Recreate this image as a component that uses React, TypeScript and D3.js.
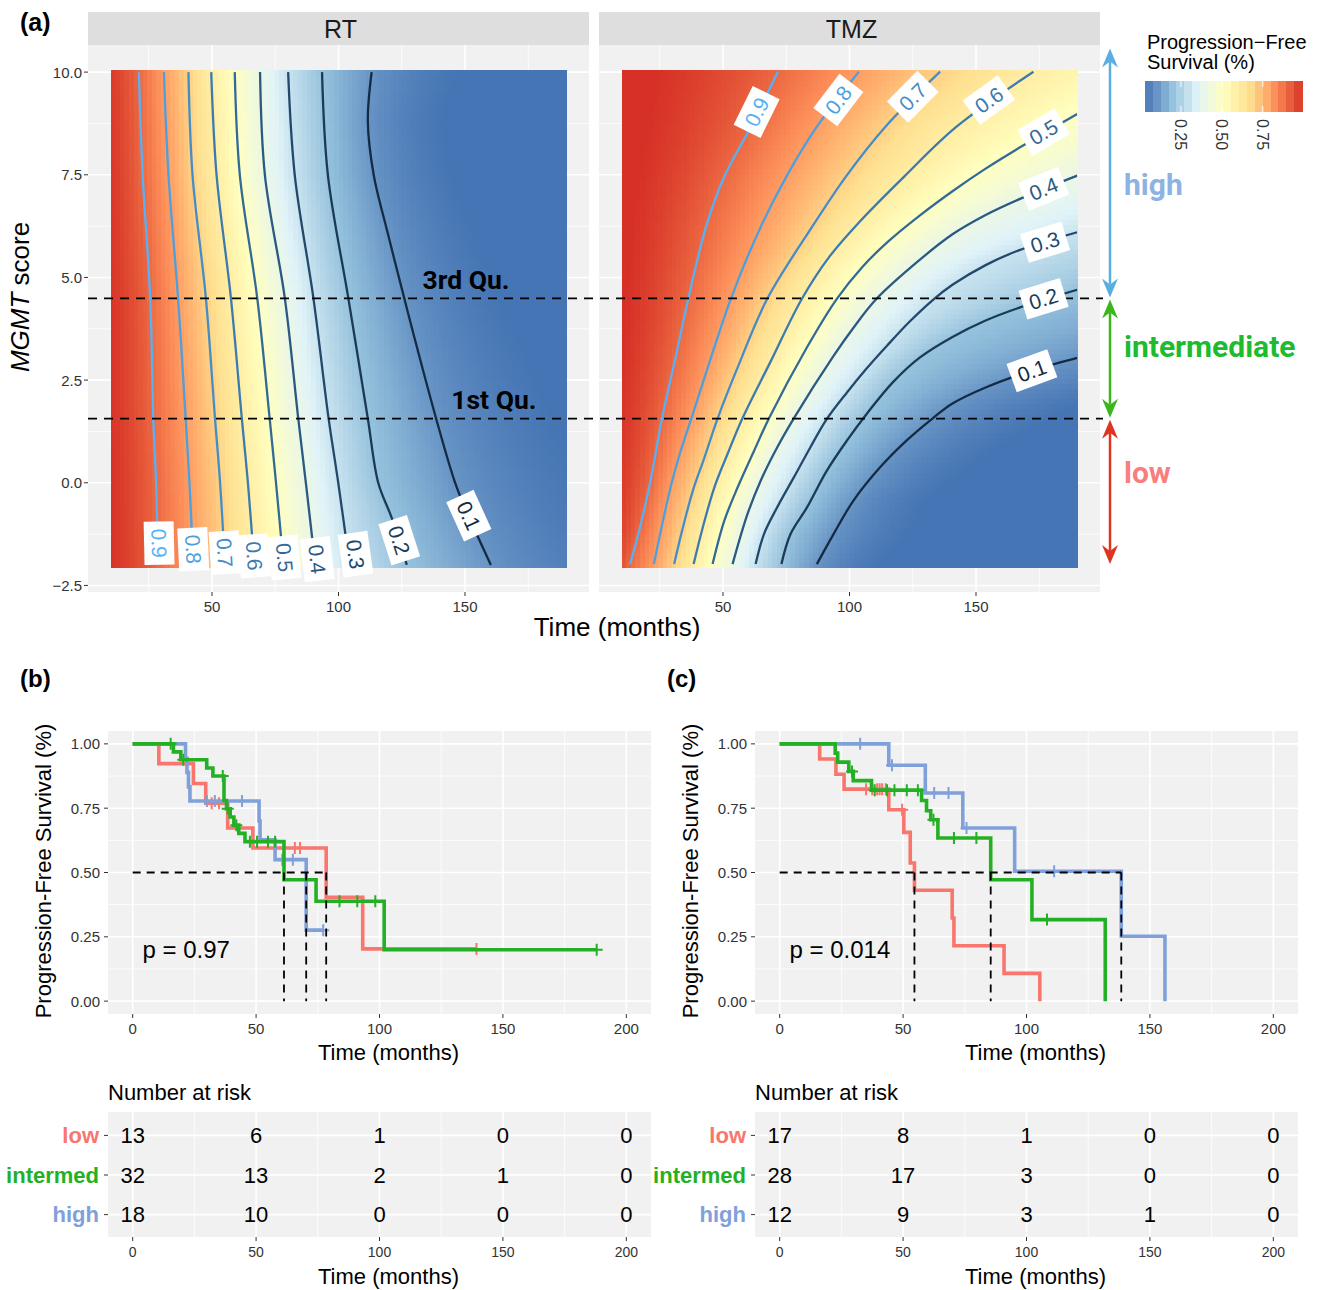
import React, { useEffect, useRef } from 'react';
import * as d3 from 'd3';

type Pt = [number, number];

const W = 1319;
const H = 1290;
const FONT = "'Liberation Sans', Arial, Helvetica, sans-serif";
const COND = "Roboto, 'Liberation Sans', Arial, sans-serif";

// ---- (a) contour lines of the predicted PFS surface as [months, MGMT score]
const levels = [0.1, 0.2, 0.3, 0.4, 0.5, 0.6, 0.7, 0.8, 0.9];

const rtC01: Pt[] = [[160.2, -2], [151.0, -0.75], [146.1, 0], [138.6, 1.56], [129.6, 3.63], [126.0, 4.49], [119.5, 6.07], [113.9, 7.5], [111.6, 8.8], [113.1, 10]];
const rtC02: Pt[] = [[127, -2], [121, -0.85], [115.7, 0], [111.6, 1.56], [103.9, 4.49], [95.8, 7.5], [93.5, 10]];
const rtC03: Pt[] = [[104.4, -2], [99.9, 0], [96.1, 1.56], [90.1, 4.49], [82.7, 7.5], [80.1, 10]];
const rtC04: Pt[] = [[90.8, -2], [87.1, 0], [84.1, 1.56], [78.8, 4.49], [70.9, 7.5], [69.0, 10]];
const rtC05: Pt[] = [[78.3, -2], [75.3, 0], [72.8, 1.56], [67.9, 4.49], [61.0, 7.5], [59.0, 10]];
const rtC06: Pt[] = [[66.7, -2], [64.2, 0], [61.8, 1.56], [57.5, 4.49], [51.8, 7.5], [49.7, 10]];
const rtC07: Pt[] = [[55.1, -2], [53.2, 0], [51.2, 1.56], [47.6, 4.49], [42.3, 7.5], [40.7, 10]];
const rtC08: Pt[] = [[42.6, -2], [41.1, 0], [39.6, 1.56], [36.6, 4.49], [32.8, 7.5], [31.0, 10]];
const rtC09: Pt[] = [[28.6, -2], [27.9, 0], [26.8, 1.56], [25.6, 4.49], [22.6, 7.5], [21.1, 10]];
const rtContours = [rtC01, rtC02, rtC03, rtC04, rtC05, rtC06, rtC07, rtC08, rtC09];
const rtLabelAt: Pt[] = [[151.5, -0.8], [124.0, -1.4], [106.7, -1.74], [91.6, -1.86], [78.7, -1.82], [66.7, -1.78], [55.1, -1.7], [42.6, -1.62], [29.1, -1.47]];

const tmzC01: Pt[] = [[87.1, -1.98], [93.7, -1.25], [101.5, -0.44], [112.0, 0.37], [122.4, 1.02], [132.9, 1.57], [140.7, 1.93], [153.8, 2.32], [172.1, 2.73], [190, 3.04]];
const tmzC02: Pt[] = [[73.1, -1.98], [76.7, -1.25], [83.2, -0.6], [91.0, 0.29], [98.9, 1.02], [106.7, 1.67], [117.2, 2.45], [127.6, 3.04], [140.7, 3.55], [153.8, 3.95], [166.9, 4.26], [190, 4.7]];
const tmzC03: Pt[] = [[62.9, -1.98], [66.2, -1.25], [71.4, -0.6], [78.0, 0.13], [84.5, 0.86], [91.0, 1.55], [99, 2.2], [107, 2.8], [115, 3.35], [123.7, 3.92], [132.9, 4.45], [140.7, 4.82], [153.8, 5.3], [166.9, 5.66], [190, 6.1]];
const tmzC04: Pt[] = [[53.8, -1.98], [59.7, -0.76], [64.9, 0.05], [71.4, 0.86], [78.0, 1.57], [93.7, 3.09], [101.5, 3.77], [110.7, 4.48], [127.6, 5.42], [140.7, 6.05], [153.8, 6.52], [166.9, 6.9], [190, 7.48]];
const tmzC05: Pt[] = [[45.9, -1.98], [50.5, -0.93], [55.8, -0.11], [62.3, 0.78], [68.2, 1.57], [83.2, 3.3], [95.0, 4.48], [105, 5.25], [115, 5.86], [127.6, 6.5], [140.7, 7.1], [153.8, 7.65], [166.9, 8.15], [190, 8.98]];
const tmzC06: Pt[] = [[38.4, -1.98], [42.0, -1.09], [46.6, -0.11], [51.8, 0.7], [57.7, 1.57], [68.8, 2.95], [81.2, 4.48], [92, 5.5], [103.9, 6.35], [121.5, 7.45], [142.3, 8.67], [172.7, 10.01]];
const tmzC07: Pt[] = [[30.7, -1.98], [33.5, -1.25], [38.1, -0.19], [42.7, 0.62], [47.9, 1.57], [55.8, 2.81], [67.5, 4.48], [85.2, 6.23], [98.5, 7.45], [114.2, 8.67], [135.8, 10.01]];
const tmzC08: Pt[] = [[22.7, -1.98], [25.7, -1.09], [29.6, -0.03], [32.9, 0.7], [37.5, 1.57], [44.0, 2.81], [53.1, 4.48], [64.9, 6.23], [75.0, 7.45], [87.1, 8.67], [103.7, 10.01]];
const tmzC09: Pt[] = [[13.3, -1.98], [17.2, -1.09], [21.1, -0.03], [23.1, 0.62], [25.9, 1.57], [30.9, 2.95], [36.3, 4.48], [43.3, 6.23], [50.5, 7.45], [61.0, 8.67], [71.7, 10.01]];
const tmzContours = [tmzC01, tmzC02, tmzC03, tmzC04, tmzC05, tmzC06, tmzC07, tmzC08, tmzC09];
const tmzLabelAt: Pt[] = [[172.1, 2.73], [176.7, 4.48], [177.3, 5.86], [176.7, 7.16], [176.7, 8.54], [155.1, 9.32], [125.0, 9.4], [95.6, 9.32], [63.3, 9.03]];

const quartileScores = [4.49, 1.56];
const quartileNames = ['3rd Qu.', '1st Qu.'];
const quartileLabelMonths = [150.4, 161.4];

const fillLimits = [0.03, 0.99];
const rdylbu7 = ['#4575b4', '#91bfdb', '#e0f3f8', '#ffffbf', '#fee090', '#fc8d59', '#d73027'];
const legendTicks = [0.25, 0.5, 0.75];

const groupLong = ['high', 'intermediate', 'low'];
const groupRanges: Pt[] = [[4.49, 10.6], [1.56, 4.49], [-2, 1.56]];
const groupTextScore = [7.27, 3.32, 0.24];
const groupArrowColors = ['#5BAEE0', '#3DB61E', '#DD3520'];
const groupTextColors = ['#8DB3E2', '#1DBB2F', '#F77F7F'];

// ---- (b) RT and (c) TMZ Kaplan-Meier curves: [month, survival after drop]
const rtLowSteps: Pt[] = [[10.6, 0.923], [24.6, 0.846], [29.6, 0.769], [38.5, 0.673], [48.7, 0.595], [78.4, 0.404], [93.2, 0.203]];
const rtLowCensor = [32, 35, 65.7, 67.8, 139.3];
const rtIntSteps: Pt[] = [[16.5, 0.969], [19.5, 0.938], [30, 0.906], [32.5, 0.875], [37, 0.78], [38, 0.748], [39.5, 0.716], [41, 0.684], [43, 0.652], [45.5, 0.62], [61.3, 0.472], [74.3, 0.388], [101.9, 0.2]];
const rtIntCensor = [15.4, 20.5, 36.5, 38.5, 42, 47.5, 50.4, 54.8, 57.7, 83.8, 91, 98.3, 188];
const rtHighSteps: Pt[] = [[21.4, 0.944], [22, 0.889], [22.6, 0.833], [23.2, 0.778], [51.2, 0.7], [51.6, 0.627], [57.7, 0.55], [70.3, 0.276]];
const rtHighCensor = [30.1, 33.3, 44.3, 60.6, 64.9, 77.2];

const tmzLowSteps: Pt[] = [[16.2, 0.941], [22.8, 0.882], [26.1, 0.824], [44.2, 0.744], [50.3, 0.656], [52.9, 0.537], [54.6, 0.431], [69.9, 0.323], [70.6, 0.215], [90.9, 0.108], [105.4, 0]];
const tmzLowCensor = [35, 37.5, 39.5, 40.5, 41.5, 43, 49.6];
const tmzIntSteps: Pt[] = [[22.5, 0.964], [23.5, 0.929], [28, 0.893], [29.8, 0.857], [37.2, 0.82], [57.5, 0.78], [59.5, 0.74], [61.2, 0.705], [64.1, 0.634], [85.5, 0.472], [102.2, 0.317], [131.9, 0]];
const tmzIntCensor = [29.3, 38.5, 43.5, 46.5, 51.5, 56, 62.3, 70.6, 79.7, 108.3];
const tmzHighSteps: Pt[] = [[44.2, 0.917], [59, 0.809], [74.2, 0.673], [95.2, 0.505], [138.4, 0.252], [156.1, 0]];
const tmzHighCensor = [32.6, 45.5, 62.6, 68.4, 75.7, 111.2];

const riskTimes = [0, 50, 100, 150, 200];
const rtRiskLow = [13, 6, 1, 0, 0];
const rtRiskInt = [32, 13, 2, 1, 0];
const rtRiskHigh = [18, 10, 0, 0, 0];
const tmzRiskLow = [17, 8, 1, 0, 0];
const tmzRiskInt = [28, 17, 3, 0, 0];
const tmzRiskHigh = [12, 9, 3, 1, 0];

const groups = ['low', 'intermed', 'high'];
const groupColors = ['#F8766D', '#24B024', '#80A0DA'];

// time at which a contour crosses a given score (null if it does not);
// contours leaving through the right edge are carried on past it
function tAtScore(poly: Pt[], s: number): number | null {
  const n = poly.length;
  const lo = poly[0][1];
  const hi = poly[n - 1][1];
  if (s > hi) {
    if (hi > 9.9) return poly[n - 1][0];
    if (poly[n - 1][0] < 189) return null;
    const [ta, sa] = poly[n - 2];
    const [tb, sb] = poly[n - 1];
    return tb + ((s - sb) * (tb - ta)) / (sb - sa);
  }
  if (s < lo) return poly[0][0];
  for (let i = 0; i < n - 1; i++) {
    const [t0, s0] = poly[i];
    const [t1, s1] = poly[i + 1];
    if (s >= s0 && s <= s1) return t0 + ((t1 - t0) * (s - s0)) / (s1 - s0);
  }
  return null;
}

function rowFn(contours: Pt[][], s: number) {
  const cr: Pt[] = [];
  contours.forEach((poly, i) => {
    const t = tAtScore(poly, s);
    if (t != null) cr.push([t, levels[i]]);
  });
  cr.sort((a, b) => a[0] - b[0]);
  return (t: number) => {
    const [t1, l1] = cr[0];
    if (t <= t1) return 1 - (1 - l1) * (t / t1) ** 2;
    for (let k = 0; k < cr.length - 1; k++) {
      const [ta, la] = cr[k];
      const [tb, lb] = cr[k + 1];
      if (t <= tb) return la + ((lb - la) * (t - ta)) / (tb - ta);
    }
    const n = cr.length;
    if (n < 2) return Math.max(0, l1 - (2 * (1 - l1) * (t - t1)) / t1);
    const [ta, la] = cr[n - 2];
    const [tb, lb] = cr[n - 1];
    return lb * Math.pow(lb / la, (t - tb) / (tb - ta));
  };
}

function drawPanelA(svg: any) {
  const g = svg.append('g');
  const yA = d3.scaleLinear().domain([-2.66, 10.66]).range([592, 45]);
  const fill = d3.scaleLinear<string>()
    .domain(d3.range(7).map((i) => fillLimits[0] + (i * (fillLimits[1] - fillLimits[0])) / 6))
    .range(rdylbu7)
    .interpolate(d3.interpolateLab)
    .clamp(true);
  const lineColor = d3.scaleLinear<string>().domain([0.1, 0.9]).range(['#132B43', '#56B1F7']).interpolate(d3.interpolateLab);
  const xRT = d3.scaleLinear().domain([1, 199]).range([88, 589]);

  const panels = [
    { name: 'RT', x0: 88, x1: 589, contours: rtContours, labels: rtLabelAt },
    { name: 'TMZ', x0: 599, x1: 1100, contours: tmzContours, labels: tmzLabelAt },
  ];
  const labelLayer: { x: any; p: any }[] = [];

  panels.forEach((p, pi) => {
    const x = d3.scaleLinear().domain([1, 199]).range([p.x0, p.x1]);
    g.append('rect').attr('x', p.x0).attr('y', 12).attr('width', p.x1 - p.x0).attr('height', 33).attr('fill', '#DEDEDE');
    g.append('text').attr('x', (p.x0 + p.x1) / 2 + 2).attr('y', 29).attr('text-anchor', 'middle').attr('dominant-baseline', 'central')
      .attr('font-family', FONT).attr('font-size', 25).attr('fill', '#1a1a1a').text(p.name);
    g.append('rect').attr('x', p.x0).attr('y', 45).attr('width', p.x1 - p.x0).attr('height', 547).attr('fill', '#F1F1F1');
    [25, 75, 125, 175].forEach((v) => g.append('line').attr('x1', x(v)).attr('x2', x(v)).attr('y1', 45).attr('y2', 592).attr('stroke', '#fff').attr('stroke-width', 0.8));
    [-1.25, 1.25, 3.75, 6.25, 8.75].forEach((v) => g.append('line').attr('x1', p.x0).attr('x2', p.x1).attr('y1', yA(v)).attr('y2', yA(v)).attr('stroke', '#fff').attr('stroke-width', 0.8));
    [50, 100, 150].forEach((v) => g.append('line').attr('x1', x(v)).attr('x2', x(v)).attr('y1', 45).attr('y2', 592).attr('stroke', '#fff').attr('stroke-width', 1.6));
    [-2.5, 0, 2.5, 5, 7.5, 10].forEach((v) => g.append('line').attr('x1', p.x0).attr('x2', p.x1).attr('y1', yA(v)).attr('y2', yA(v)).attr('stroke', '#fff').attr('stroke-width', 1.6));

    // heat map tiles
    const nx = 100;
    const ny = 100;
    const tLo = 10, tHi = 190, sLo = -2.05, sHi = 10.05;
    const dt = (tHi - tLo) / nx;
    const ds = (sHi - sLo) / ny;
    const tiles: { t: number; s: number; v: number }[] = [];
    for (let j = 0; j < ny; j++) {
      const s = sLo + (j + 0.5) * ds;
      const f = rowFn(p.contours, s);
      for (let i = 0; i < nx; i++) {
        const t = tLo + (i + 0.5) * dt;
        tiles.push({ t, s, v: f(t) });
      }
    }
    g.append('g').selectAll('rect').data(tiles).join('rect')
      .attr('x', (d: any) => x(d.t - dt / 2))
      .attr('y', (d: any) => yA(d.s + ds / 2))
      .attr('width', x(tLo + dt) - x(tLo) + 0.6)
      .attr('height', yA(0) - yA(ds) + 0.6)
      .attr('fill', (d: any) => fill(d.v))
      .attr('shape-rendering', 'crispEdges');

    // contour lines
    const clipId = `clipA${pi}`;
    g.append('clipPath').attr('id', clipId).append('rect')
      .attr('x', x(tLo)).attr('y', yA(sHi)).attr('width', x(tHi) - x(tLo)).attr('height', yA(sLo) - yA(sHi));
    const line = d3.line<Pt>().x((d) => x(d[0])).y((d) => yA(d[1])).curve(d3.curveCatmullRom.alpha(0.5));
    const cg = g.append('g').attr('clip-path', `url(#${clipId})`);
    p.contours.forEach((poly, i) => {
      cg.append('path').attr('d', line(poly)).attr('fill', 'none').attr('stroke', lineColor(levels[i])).attr('stroke-width', 2.3);
    });
    labelLayer.push({ x, p });

    // x axis
    [50, 100, 150].forEach((v) => {
      g.append('line').attr('x1', x(v)).attr('x2', x(v)).attr('y1', 592).attr('y2', 596).attr('stroke', '#333').attr('stroke-width', 1);
      g.append('text').attr('x', x(v)).attr('y', 606).attr('text-anchor', 'middle').attr('dominant-baseline', 'central')
        .attr('font-family', FONT).attr('font-size', 15).attr('fill', '#333').text(String(v));
    });
  });

  // y axis (left panel only)
  const fmt = d3.format('.1f');
  [-2.5, 0, 2.5, 5, 7.5, 10].forEach((v) => {
    g.append('line').attr('x1', 84).attr('x2', 88).attr('y1', yA(v)).attr('y2', yA(v)).attr('stroke', '#333').attr('stroke-width', 1);
    g.append('text').attr('x', 82).attr('y', yA(v)).attr('text-anchor', 'end').attr('dominant-baseline', 'central')
      .attr('font-family', FONT).attr('font-size', 15).attr('fill', '#333').text(fmt(v));
  });

  // quartile lines
  quartileScores.forEach((q, i) => {
    g.append('line').attr('x1', 88).attr('x2', 1103).attr('y1', yA(q)).attr('y2', yA(q))
      .attr('stroke', '#000').attr('stroke-width', 1.8).attr('stroke-dasharray', '9,7');
    g.append('text').attr('x', xRT(quartileLabelMonths[i])).attr('y', yA(q) - 19).attr('text-anchor', 'middle').attr('dominant-baseline', 'central')
      .attr('font-family', COND).attr('font-weight', 'bold').attr('font-size', 26.5).attr('fill', '#000').text(quartileNames[i]);
  });

  // contour labels, on top of the dashed lines
  labelLayer.forEach(({ x, p }) => {
    p.labels.forEach((lp: Pt, i: number) => {
      const poly: Pt[] = p.contours[i];
      let k = 0;
      while (k < poly.length - 2 && poly[k + 1][1] < lp[1]) k++;
      const dx = x(poly[k + 1][0]) - x(poly[k][0]);
      const dy = yA(poly[k + 1][1]) - yA(poly[k][1]);
      let ang = (Math.atan2(dy, dx) * 180) / Math.PI;
      if (ang > 90) ang -= 180;
      if (ang <= -90) ang += 180;
      const lg = g.append('g').attr('transform', `translate(${x(lp[0])},${yA(lp[1])}) rotate(${ang})`);
      const rect = lg.append('rect').attr('fill', '#fff');
      const txt = lg.append('text').attr('text-anchor', 'middle').attr('dominant-baseline', 'central')
        .attr('font-family', FONT).attr('font-size', 21).attr('fill', lineColor(levels[i])).text(String(levels[i]));
      const w = (txt.node() as SVGTextElement).getComputedTextLength() || 30;
      rect.attr('x', -w / 2 - 7).attr('y', -15).attr('width', w + 14).attr('height', 30);
    });
  });

  // titles
  g.append('text').attr('x', 617).attr('y', 627).attr('text-anchor', 'middle').attr('dominant-baseline', 'central')
    .attr('font-family', FONT).attr('font-size', 26).attr('fill', '#000').text('Time (months)');
  const yt = g.append('text').attr('transform', 'translate(20,297) rotate(-90)').attr('text-anchor', 'middle').attr('dominant-baseline', 'central')
    .attr('font-family', FONT).attr('font-size', 26).attr('fill', '#000');
  yt.append('tspan').attr('font-style', 'italic').text('MGMT');
  yt.append('tspan').text(' score');
  g.append('text').attr('x', 20).attr('y', 22).attr('dominant-baseline', 'central').attr('font-family', FONT)
    .attr('font-weight', 'bold').attr('font-size', 25).attr('fill', '#000').text('(a)');

  // group arrows
  groupRanges.forEach((r, i) => {
    const c = groupArrowColors[i];
    const xa = 1110;
    const yTop = yA(r[1]) + 1;
    const yBot = yA(r[0]) - 1;
    const hl = 19, hw = 8, notch = 6;
    g.append('line').attr('x1', xa).attr('x2', xa).attr('y1', yTop + hl - notch).attr('y2', yBot - hl + notch).attr('stroke', c).attr('stroke-width', 2.5);
    g.append('path').attr('d', `M${xa},${yTop}L${xa + hw},${yTop + hl}L${xa},${yTop + hl - notch}L${xa - hw},${yTop + hl}Z`).attr('fill', c);
    g.append('path').attr('d', `M${xa},${yBot}L${xa + hw},${yBot - hl}L${xa},${yBot - hl + notch}L${xa - hw},${yBot - hl}Z`).attr('fill', c);
    g.append('text').attr('x', 1124).attr('y', yA(groupTextScore[i])).attr('dominant-baseline', 'central')
      .attr('font-family', COND).attr('font-weight', 'bold').attr('font-size', 30).attr('fill', groupTextColors[i]).text(groupLong[i]);
  });

  // legend
  g.append('text').attr('x', 1147).attr('y', 42).attr('dominant-baseline', 'central').attr('font-family', FONT).attr('font-size', 20).attr('fill', '#000').text('Progression\u2212Free');
  g.append('text').attr('x', 1147).attr('y', 62).attr('dominant-baseline', 'central').attr('font-family', FONT).attr('font-size', 20).attr('fill', '#000').text('Survival (%)');
  const lx = d3.scaleLinear().domain(fillLimits).range([1145, 1302]);
  const nb = 20;
  const bins = d3.range(nb).map((i) => fillLimits[0] + ((i + 0.5) * (fillLimits[1] - fillLimits[0])) / nb);
  const bw = (fillLimits[1] - fillLimits[0]) / nb;
  g.append('g').selectAll('rect').data(bins).join('rect')
    .attr('x', (d: number) => lx(d - bw / 2)).attr('y', 81).attr('width', lx(bw) - lx(0) + 0.5).attr('height', 31)
    .attr('fill', (d: number) => fill(d)).attr('shape-rendering', 'crispEdges');
  legendTicks.forEach((v) => {
    g.append('line').attr('x1', lx(v)).attr('x2', lx(v)).attr('y1', 81).attr('y2', 87).attr('stroke', '#fff').attr('stroke-width', 1);
    g.append('line').attr('x1', lx(v)).attr('x2', lx(v)).attr('y1', 106).attr('y2', 112).attr('stroke', '#fff').attr('stroke-width', 1);
    g.append('text').attr('transform', `translate(${lx(v)},119) rotate(90)`).attr('dominant-baseline', 'central')
      .attr('font-family', FONT).attr('font-size', 16).attr('fill', '#333').text(d3.format('.2f')(v));
  });
}

type Curve = { steps: Pt[]; censor: number[]; color: string };

function drawKM(svg: any, opt: { x0: number; x1: number; tag: string; tagX: number; ytX: number; curves: Curve[]; pText: string; risk: number[][] }) {
  const { x0, x1, curves, risk } = opt;
  const g = svg.append('g');
  const x = d3.scaleLinear().domain([-10, 210]).range([x0, x1]);
  const y = d3.scaleLinear().domain([-0.05, 1.05]).range([1014, 731]);
  const cx = (x0 + x1) / 2 + 9;

  g.append('text').attr('x', opt.tagX).attr('y', 678).attr('dominant-baseline', 'central').attr('font-family', FONT)
    .attr('font-weight', 'bold').attr('font-size', 24).attr('fill', '#000').text(opt.tag);

  g.append('rect').attr('x', x0).attr('y', 731).attr('width', x1 - x0).attr('height', 283).attr('fill', '#F1F1F1');
  [25, 75, 125, 175].forEach((v) => g.append('line').attr('x1', x(v)).attr('x2', x(v)).attr('y1', 731).attr('y2', 1014).attr('stroke', '#fff').attr('stroke-width', 0.8));
  [0.125, 0.375, 0.625, 0.875].forEach((v) => g.append('line').attr('x1', x0).attr('x2', x1).attr('y1', y(v)).attr('y2', y(v)).attr('stroke', '#fff').attr('stroke-width', 0.8));
  riskTimes.forEach((v) => g.append('line').attr('x1', x(v)).attr('x2', x(v)).attr('y1', 731).attr('y2', 1014).attr('stroke', '#fff').attr('stroke-width', 1.6));
  [0, 0.25, 0.5, 0.75, 1].forEach((v) => g.append('line').attr('x1', x0).attr('x2', x1).attr('y1', y(v)).attr('y2', y(v)).attr('stroke', '#fff').attr('stroke-width', 1.6));

  const line = d3.line<Pt>().x((d) => x(d[0])).y((d) => y(d[1])).curve(d3.curveStepAfter);
  [0, 2, 1].forEach((ci) => {
    const c = curves[ci];
    const pts: Pt[] = [[0, 1], ...c.steps];
    const last = pts[pts.length - 1];
    const end = Math.max(last[0], d3.max(c.censor) || 0);
    if (end > last[0]) pts.push([end, last[1]]);
    g.append('path').attr('d', line(pts)).attr('fill', 'none').attr('stroke', c.color).attr('stroke-width', 3.6);
    const sAt = (t: number) => {
      let v = 1;
      c.steps.forEach(([tt, ss]) => { if (tt <= t) v = ss; });
      return v;
    };
    g.append('path').attr('d', c.censor.map((t) => `M${x(t) - 6},${y(sAt(t))}h12M${x(t)},${y(sAt(t)) - 6}v12`).join(''))
      .attr('stroke', c.color).attr('stroke-width', 2).attr('fill', 'none');
  });

  // medians
  const meds = curves.map((c) => (c.steps.find((s) => s[1] <= 0.5) as Pt)[0]);
  const dash = (xa: number, ya: number, xb: number, yb: number) =>
    g.append('line').attr('x1', xa).attr('x2', xb).attr('y1', ya).attr('y2', yb).attr('stroke', '#000').attr('stroke-width', 1.8).attr('stroke-dasharray', '8,6');
  dash(x(0), y(0.5), x(d3.max(meds) as number), y(0.5));
  meds.forEach((m) => dash(x(m), y(0.5), x(m), y(0)));

  g.append('text').attr('x', x(4)).attr('y', y(0.2)).attr('dominant-baseline', 'central').attr('font-family', FONT)
    .attr('font-size', 24).attr('fill', '#000').text(opt.pText);

  // axes
  const fmt = d3.format('.2f');
  [0, 0.25, 0.5, 0.75, 1].forEach((v) => {
    g.append('line').attr('x1', x0 - 4).attr('x2', x0).attr('y1', y(v)).attr('y2', y(v)).attr('stroke', '#333');
    g.append('text').attr('x', x0 - 8).attr('y', y(v)).attr('text-anchor', 'end').attr('dominant-baseline', 'central')
      .attr('font-family', FONT).attr('font-size', 15).attr('fill', '#333').text(fmt(v));
  });
  riskTimes.forEach((v) => {
    g.append('line').attr('x1', x(v)).attr('x2', x(v)).attr('y1', 1014).attr('y2', 1018).attr('stroke', '#333');
    g.append('text').attr('x', x(v)).attr('y', 1028).attr('text-anchor', 'middle').attr('dominant-baseline', 'central')
      .attr('font-family', FONT).attr('font-size', 15).attr('fill', '#333').text(String(v));
  });
  g.append('text').attr('x', cx).attr('y', 1052).attr('text-anchor', 'middle').attr('dominant-baseline', 'central')
    .attr('font-family', FONT).attr('font-size', 22).attr('fill', '#000').text('Time (months)');
  g.append('text').attr('transform', `translate(${opt.ytX},871) rotate(-90)`).attr('text-anchor', 'middle').attr('dominant-baseline', 'central')
    .attr('font-family', FONT).attr('font-size', 22).attr('fill', '#000').text('Progression-Free Survival (%)');

  // number at risk table
  const ry = d3.scalePoint<string>().domain(groups).range([1135.4, 1214.6]);
  g.append('text').attr('x', x0).attr('y', 1092).attr('dominant-baseline', 'central').attr('font-family', FONT)
    .attr('font-size', 22).attr('fill', '#000').text('Number at risk');
  g.append('rect').attr('x', x0).attr('y', 1112).attr('width', x1 - x0).attr('height', 125).attr('fill', '#F1F1F1');
  [25, 75, 125, 175].forEach((v) => g.append('line').attr('x1', x(v)).attr('x2', x(v)).attr('y1', 1112).attr('y2', 1237).attr('stroke', '#fff').attr('stroke-width', 0.8));
  riskTimes.forEach((v) => g.append('line').attr('x1', x(v)).attr('x2', x(v)).attr('y1', 1112).attr('y2', 1237).attr('stroke', '#fff').attr('stroke-width', 1.6));
  groups.forEach((gr, gi) => {
    const yy = ry(gr) as number;
    g.append('line').attr('x1', x0).attr('x2', x1).attr('y1', yy).attr('y2', yy).attr('stroke', '#fff').attr('stroke-width', 1.6);
    g.append('line').attr('x1', x0 - 4).attr('x2', x0).attr('y1', yy).attr('y2', yy).attr('stroke', '#333');
    g.append('text').attr('x', x0 - 9).attr('y', yy).attr('text-anchor', 'end').attr('dominant-baseline', 'central')
      .attr('font-family', FONT).attr('font-weight', 'bold').attr('font-size', 22).attr('fill', groupColors[gi]).text(gr);
    risk[gi].forEach((n, k) => {
      g.append('text').attr('x', x(riskTimes[k])).attr('y', yy).attr('text-anchor', 'middle').attr('dominant-baseline', 'central')
        .attr('font-family', FONT).attr('font-size', 22).attr('fill', '#000').text(String(n));
    });
  });
  riskTimes.forEach((v) => {
    g.append('line').attr('x1', x(v)).attr('x2', x(v)).attr('y1', 1237).attr('y2', 1241).attr('stroke', '#333');
    g.append('text').attr('x', x(v)).attr('y', 1252).attr('text-anchor', 'middle').attr('dominant-baseline', 'central')
      .attr('font-family', FONT).attr('font-size', 14).attr('fill', '#333').text(String(v));
  });
  g.append('text').attr('x', cx).attr('y', 1276).attr('text-anchor', 'middle').attr('dominant-baseline', 'central')
    .attr('font-family', FONT).attr('font-size', 22).attr('fill', '#000').text('Time (months)');
}

const App = () => {
  const svgRef = useRef<SVGSVGElement>(null);

  useEffect(() => {
    const svg = d3.select(svgRef.current);
    svg.selectAll('*').remove();
    svg.append('rect').attr('width', W).attr('height', H).attr('fill', '#fff');
    drawPanelA(svg);
    drawKM(svg, {
      x0: 108, x1: 651, tag: '(b)', tagX: 20, ytX: 43, pText: 'p = 0.97',
      curves: [
        { steps: rtLowSteps, censor: rtLowCensor, color: groupColors[0] },
        { steps: rtIntSteps, censor: rtIntCensor, color: groupColors[1] },
        { steps: rtHighSteps, censor: rtHighCensor, color: groupColors[2] },
      ],
      risk: [rtRiskLow, rtRiskInt, rtRiskHigh],
    });
    drawKM(svg, {
      x0: 755, x1: 1298, tag: '(c)', tagX: 667, ytX: 690, pText: 'p = 0.014',
      curves: [
        { steps: tmzLowSteps, censor: tmzLowCensor, color: groupColors[0] },
        { steps: tmzIntSteps, censor: tmzIntCensor, color: groupColors[1] },
        { steps: tmzHighSteps, censor: tmzHighCensor, color: groupColors[2] },
      ],
      risk: [tmzRiskLow, tmzRiskInt, tmzRiskHigh],
    });
  }, []);

  return <svg ref={svgRef} width={W} height={H} style={{ position: 'absolute', left: 0, top: 0 }} />;
};

export default App;
